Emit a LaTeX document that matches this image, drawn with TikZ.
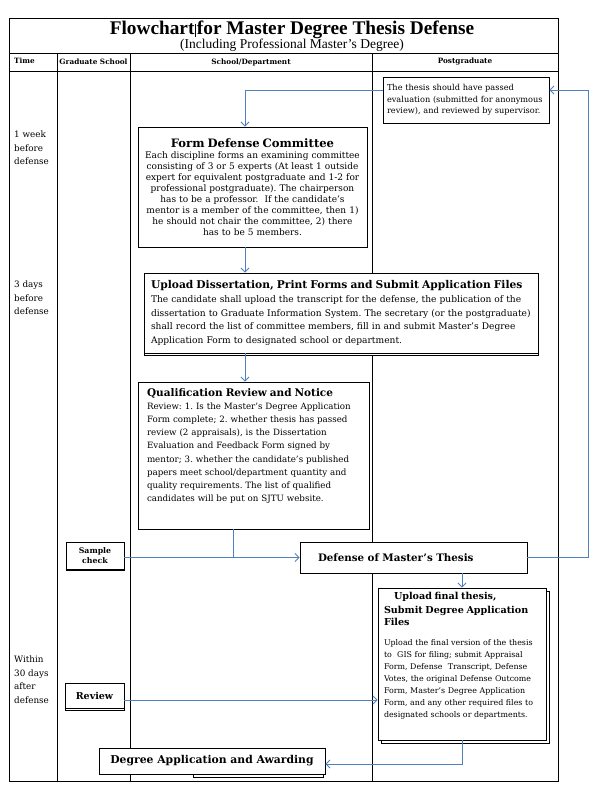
\documentclass[tikz,border=0pt]{standalone}
\usepackage{fontspec}
\setmainfont{DejaVu Serif}
\newfontfamily\timesfont{Liberation Serif}
\usetikzlibrary{arrows.meta,shadows}
\frenchspacing

\newcommand\fsz[2]{\fontsize{#1}{#2}\selectfont}

\begin{document}
\begin{tikzpicture}[x=1pt,y=-1pt,
		box/.style={draw, fill=white, line width=0.8pt, inner xsep=5pt, inner ysep=2pt},
		flow/.style={draw=flowblue, line width=0.9pt, -{Straight Barb[length=4pt,width=8pt]}},
		link/.style={draw=flowblue, line width=0.9pt},
		hdr/.style={font=\fsz{7.3}{9}\bfseries, inner sep=0pt},
		when/.style={font=\fsz{8.8}{13.4}, align=left, anchor=north west, inner sep=0pt}]
				\definecolor{flowblue}{HTML}{4F81BD}
				\useasboundingbox (0,0) rectangle (591,788);
				%% Table ------
				\draw[line width=0.8pt] (9,18) rectangle (558,781);
				\draw[line width=0.8pt] (9,53) -- (558,53) (9,71) -- (558,71);
				\draw[line width=0.8pt] (57,53) -- (57,781) (130,53) -- (130,781) (372,53) -- (372,781);
				\node[inner sep=0pt, font=\timesfont\fsz{19.3}{21}\bfseries] (title) at (292,30) {Flowchart\hspace{0.5pt}\rule[-2pt]{0.5pt}{13pt}\hspace{1.5pt}for Master Degree Thesis Defense};
				\node[inner sep=0pt, font=\timesfont\fsz{13.5}{15}] (subtitle) at (292,45.5) {(Including Professional Master’s Degree)};
				\node[hdr, anchor=west] (htime) at (14,61) {Time};
				\node[hdr] (hgrad) at (93.5,62) {Graduate School};
				\node[hdr] (hdept) at (251,62) {School/Department};
				\node[hdr] (hpost) at (465,62) {Postgraduate};
				%% Time ------
				\node[when] (t1) at (14,131) {1 week\\before\\defense};
				\node[when] (t2) at (14,281) {3 days\\before\\defense};
				\node[when] (t3) at (14,656) {Within\\30 days\\after\\defense};
				%% Boxes ------
				\node[box, minimum width=166, minimum height=46, text width=158, inner xsep=4pt, align=left, font=\fsz{8.2}{11.5}] (thesis) at (466,100)
					{The thesis should have passed\\evaluation (submitted for anonymous\\review), and reviewed by supervisor.};
				\node[box, minimum width=229, minimum height=120, text width=221, inner xsep=4pt, align=center, font=\fsz{9}{11}] (form) at (252.5,187)
					{{\fsz{11.6}{13}\bfseries Form Defense Committee}\\Each discipline forms an examining committee\\consisting of 3 or 5 experts (At least 1 outside\\expert for equivalent postgraduate and 1-2 for\\professional postgraduate). The chairperson\\has to be a professor.\ \ If the candidate’s\\mentor is a member of the committee, then 1)\\he should not chair the committee, 2) there\\has to be 5 members.};
				\node[box, copy shadow={shadow xshift=0pt, shadow yshift=-2.5pt}, minimum width=394, minimum height=80, text width=380, inner xsep=7pt, align=left, font=\fsz{9.1}{13.7}] (upload) at (341,313)
					{{\fsz{10.7}{12}\bfseries Upload Dissertation, Print Forms and Submit Application Files}\\The candidate shall upload the transcript for the defense, the publication of the\\dissertation to Graduate Information System. The secretary (or the postgraduate)\\shall record the list of committee members, fill in and submit Master’s Degree\\Application Form to designated school or department.};
				\node[box, minimum width=231, minimum height=147, text width=213, inner xsep=9pt, align=left, font=\fsz{8.7}{13.2}] (qual) at (253.5,455.5)
					{{\fsz{10.5}{12}\bfseries Qualification Review and Notice}\\Review: 1. Is the Master’s Degree Application\\Form complete; 2. whether thesis has passed\\review (2 appraisals), is the Dissertation\\Evaluation and Feedback Form signed by\\mentor; 3. whether the candidate’s published\\papers meet school/department quantity and\\quality requirements. The list of qualified\\candidates will be put on SJTU website.\\[8pt]~};
				\node[box, copy shadow={shadow xshift=0.5pt, shadow yshift=-1.5pt}, minimum width=58, minimum height=27, align=center, font=\fsz{7.8}{9.5}\bfseries] (sample) at (95,555.5)
					{Sample\\check};
				\node[box, minimum width=227, minimum height=31, text width=191, inner xsep=18pt, align=left, font=\fsz{10.3}{12}\bfseries] (defense) at (413.5,557.5)
					{Defense of Master’s Thesis};
				\node[box, copy shadow={shadow xshift=3pt, shadow yshift=-3pt}, minimum width=168, minimum height=152, text width=156, inner xsep=6pt, align=left, font=\fsz{7.9}{12}] (final) at (462,664)
					{{\fsz{9.6}{14}\bfseries\hspace*{10pt}Upload final thesis,\\Submit Degree Application\\Files}\\[8pt]Upload the final version of the thesis\\to\ \ GIS for filing; submit Appraisal\\Form, Defense\ \ Transcript, Defense\\Votes, the original Defense Outcome\\Form, Master’s Degree Application\\Form, and any other required files to\\designated schools or departments.\\[6pt]~};
				\node[box, copy shadow={shadow xshift=0.5pt, shadow yshift=-2pt}, minimum width=59, minimum height=25, font=\fsz{9.5}{11}\bfseries] (review) at (94.5,695.5)
					{Review};
				\node[box, minimum width=130, minimum height=25] (degreeback) at (258,764.5) {};
				\node[box, minimum width=226, minimum height=26, font=\fsz{10.8}{13}\bfseries] (degree) at (212,761)
					{Degree Application and Awarding};
				%% Connectors ------
				\coordinate (spine) at (245,0);
				\coordinate (join) at (233,0);
				\coordinate (loop) at (588,0);
				\draw[flow] ([yshift=10pt]thesis.west) -| (spine |- form.north);
				\draw[flow] (spine |- form.south) -- (spine |- upload.north);
				\draw[flow] (spine |- upload.south) -- (spine |- qual.north);
				\draw[link] (join |- qual.south) -- (join |- defense.west);
				\draw[flow] (sample.east |- defense.west) -- (defense.west);
				\draw[flow] (defense.east) -- (loop |- defense.east) |- ([yshift=10pt]thesis.east);
				\draw[flow] (final.north |- defense.south) -- (final.north);
				\draw[flow] ([yshift=-4.5pt]review.east) -- ([yshift=-4.5pt]review.east -| final.west);
				\draw[flow] (final.south) |- ([yshift=-3pt]degree.east);
			\end{tikzpicture}
\end{document}
